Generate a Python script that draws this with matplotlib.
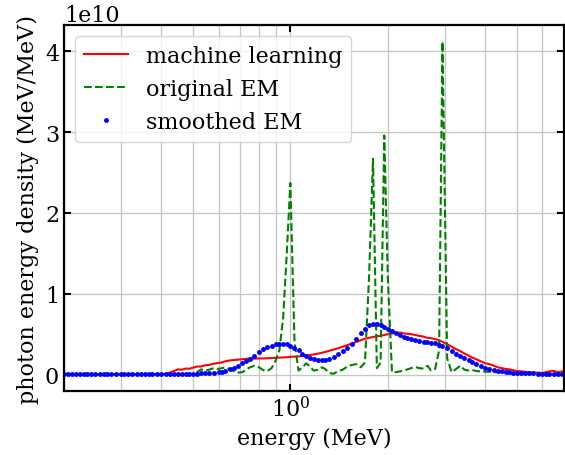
import matplotlib
matplotlib.use("Agg")
import matplotlib.pyplot as plt

plt.rcParams['font.family'] = ['DejaVu Serif']
plt.rcParams['mathtext.fontset'] = 'dejavuserif'

energy = [0.200, 0.206, 0.212, 0.218, 0.224, 0.230, 0.236, 0.243, 0.250, 0.258,
          0.265, 0.272, 0.280, 0.290, 0.300, 0.307, 0.315, 0.325, 0.335, 0.345,
          0.355, 0.365, 0.375, 0.387, 0.400, 0.412, 0.425, 0.437, 0.450, 0.462,
          0.475, 0.487, 0.500, 0.515, 0.530, 0.545, 0.560, 0.580, 0.600, 0.615,
          0.630, 0.650, 0.670, 0.690, 0.710, 0.730, 0.750, 0.775, 0.800, 0.825,
          0.850, 0.875, 0.900, 0.925, 0.950, 0.975,
          1.00, 1.03, 1.06, 1.09, 1.12, 1.15, 1.18, 1.22, 1.25, 1.28,
          1.32, 1.36, 1.40, 1.45, 1.50, 1.55, 1.60, 1.65, 1.70, 1.75,
          1.80, 1.85, 1.90, 1.95, 2.00, 2.06, 2.12, 2.18, 2.24, 2.30,
          2.36, 2.43, 2.50, 2.58, 2.65, 2.72, 2.80, 2.88, 2.95, 3.05,
          3.15, 3.25, 3.35, 3.45, 3.55, 3.65, 3.75, 3.87, 4.00, 4.12,
          4.25, 4.37, 4.50, 4.62, 4.75, 4.87, 5.00, 5.15, 5.30, 5.45,
          5.60, 5.80, 6.00, 6.15, 6.30, 6.50, 6.70, 6.90]

# values in units of 1e10 MeV/MeV
machine_learning = [0.003, 0.004, 0.003, 0.004, 0.003, 0.004, 0.003, 0.004, 0.003, 0.004,
                    0.003, 0.004, 0.003, 0.004, 0.004, 0.003, 0.004, 0.003, 0.004, 0.003,
                    0.004, 0.003, 0.004, 0.004, 0.005, 0.010, 0.025, 0.045, 0.065, 0.060,
                    0.075, 0.072, 0.085, 0.100, 0.100, 0.115, 0.120, 0.135, 0.145, 0.150,
                    0.165, 0.175, 0.180, 0.185, 0.190, 0.195, 0.200, 0.198, 0.200, 0.200,
                    0.202, 0.205, 0.208, 0.210, 0.213, 0.215,
                    0.220, 0.222, 0.225, 0.230, 0.235, 0.243, 0.250, 0.260, 0.270, 0.280,
                    0.295, 0.310, 0.325, 0.345, 0.365, 0.385, 0.405, 0.425, 0.445, 0.455,
                    0.465, 0.475, 0.480, 0.490, 0.500, 0.510, 0.515, 0.520, 0.510, 0.505,
                    0.500, 0.490, 0.480, 0.470, 0.455, 0.450, 0.440, 0.425, 0.405, 0.375,
                    0.345, 0.315, 0.290, 0.260, 0.235, 0.210, 0.190, 0.165, 0.140, 0.130,
                    0.110, 0.090, 0.080, 0.070, 0.065, 0.055, 0.045, 0.040, 0.035, 0.030,
                    0.025, 0.025, 0.020, 0.030, 0.040, 0.045, 0.030, 0.040]

original_em = [0.003, 0.003, 0.003, 0.003, 0.003, 0.003, 0.003, 0.003, 0.003, 0.003,
               0.003, 0.003, 0.003, 0.003, 0.005, 0.005, 0.005, 0.005, 0.005, 0.005,
               0.005, 0.005, 0.005, 0.005, 0.005, 0.005, 0.005, 0.005, 0.005, 0.005,
               0.005, 0.005, 0.010, 0.030, 0.065, 0.050, 0.060, 0.080, 0.070, 0.080,
               0.090, 0.065, 0.040, 0.025, 0.030, 0.060, 0.090, 0.110, 0.090, 0.055,
               0.045, 0.080, 0.170, 0.300, 0.700, 1.500,
               2.370, 0.400, 0.050, 0.090, 0.140, 0.100, 0.050, 0.060, 0.090, 0.070,
               0.020, 0.010, 0.040, 0.060, 0.100, 0.120, 0.130, 0.090, 0.150, 1.200,
               2.670, 0.080, 0.150, 2.960, 1.200, 0.030, 0.030, 0.040, 0.050, 0.065,
               0.080, 0.095, 0.080, 0.075, 0.110, 0.050, 0.070, 0.300, 4.120, 0.200,
               0.030, 0.070, 0.110, 0.060, 0.050, 0.055, 0.045, 0.040, 0.035, 0.035,
               0.030, 0.030, 0.025, 0.020, 0.020, 0.015, 0.015, 0.012, 0.010, 0.010,
               0.008, 0.008, 0.006, 0.006, 0.005, 0.005, 0.005, 0.005]

smoothed_em = [0.004, 0.004, 0.004, 0.004, 0.004, 0.004, 0.004, 0.004, 0.004, 0.004,
               0.004, 0.004, 0.004, 0.004, 0.012, 0.012, 0.012, 0.012, 0.012, 0.012,
               0.012, 0.012, 0.012, 0.012, 0.012, 0.012, 0.012, 0.012, 0.012, 0.012,
               0.012, 0.012, 0.012, 0.013, 0.015, 0.018, 0.020, 0.023, 0.028, 0.035,
               0.045, 0.065, 0.085, 0.110, 0.140, 0.165, 0.190, 0.235, 0.280, 0.315,
               0.340, 0.360, 0.375, 0.382, 0.382, 0.375,
               0.360, 0.330, 0.300, 0.260, 0.225, 0.205, 0.190, 0.178, 0.175, 0.180,
               0.195, 0.220, 0.250, 0.290, 0.330, 0.380, 0.440, 0.510, 0.570, 0.610,
               0.630, 0.630, 0.615, 0.595, 0.565, 0.535, 0.510, 0.495, 0.470, 0.455,
               0.440, 0.425, 0.410, 0.405, 0.400, 0.395, 0.385, 0.370, 0.355, 0.325,
               0.295, 0.260, 0.230, 0.205, 0.180, 0.155, 0.135, 0.110, 0.085, 0.065,
               0.055, 0.048, 0.040, 0.033, 0.027, 0.025, 0.024, 0.022, 0.020, 0.017,
               0.014, 0.012, 0.010, 0.008, 0.006, 0.005, 0.005, 0.005]

scale = 1e10
ml = [v * scale for v in machine_learning]
orig = [v * scale for v in original_em]
smooth = [v * scale for v in smoothed_em]

FS = 16

fig = plt.figure(figsize=(5.65, 4.56), dpi=100)
ax = fig.add_axes([64 / 565, 1 - 392 / 456, 500 / 565, 366 / 456])

ax.plot(energy, ml, color='red', lw=1.5, label='machine learning')
ax.plot(energy, orig, color='green', ls='--', lw=1.5, label='original EM')
ax.plot(energy, smooth, color='blue', ls='none', marker='.', ms=5, label='smoothed EM')

ax.set_xscale('log')
ax.set_xlim(0.2, 7.0)
ax.grid(True, which='both', color='#c4c4c4', lw=0.9)
ax.set_axisbelow(True)

ax.tick_params(which='both', direction='in', top=True, right=True, labelsize=FS)
ax.tick_params(which='major', length=5, width=1.5)
ax.tick_params(which='minor', length=0)
for s in ax.spines.values():
    s.set_linewidth(1.6)
ax.yaxis.get_offset_text().set_fontsize(FS)

ax.set_xlabel('energy (MeV)', fontsize=FS)
ax.set_ylabel('photon energy density (MeV/MeV)', fontsize=FS)
ax.legend(loc='upper left', fontsize=FS)

fig.savefig('out.png', dpi=100)
